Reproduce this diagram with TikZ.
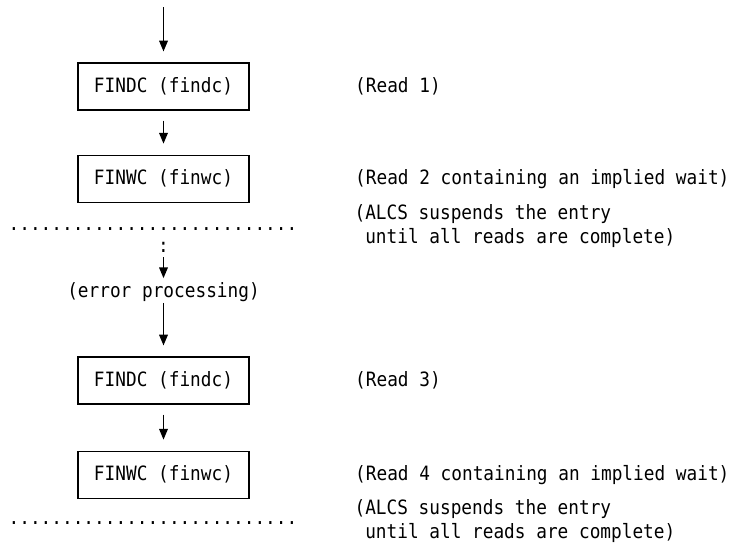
\documentclass[tikz,border=0pt]{standalone}
\usepackage{fontspec}
\setmonofont[FakeStretch=0.9]{DejaVu Sans Mono}
\usepackage{tikz}
\usetikzlibrary{arrows.meta, positioning}

\begin{document}
\begin{tikzpicture}[
  x=0.75pt, y=-0.75pt,
  every node/.style={font=\ttfamily\fontsize{14.8}{18}\selectfont, inner sep=0pt},
  callbox/.style={rectangle, draw, line width=0.9pt, minimum width=128.25pt, minimum height=35.25pt},
  note/.style={align=left},
  arrow/.style={-{Triangle[length=8pt,width=6.5pt]}, line width=0.9pt, shorten <=7.5pt, shorten >=8.25pt}
]
\useasboundingbox (0,0) rectangle (733,553);

% Nodes
\coordinate (start) at (163.5,7);
\node[callbox] (findc1) at (163.5,86.5) {FINDC (findc)};
\node[callbox, below=33pt of findc1] (finwc1) {FINWC (finwc)};
\node (wait1) at (153,229) {...........................};
\node (gap) at (163.5,247) {:};
\node (err) at (163.5,292) {(error processing)};
\node[callbox] (findc2) at (163.5,380.5) {FINDC (findc)};
\node[callbox, below=34.5pt of findc2] (finwc2) {FINWC (finwc)};
\node (wait2) at (153,523) {...........................};

% Comments on the right
\node[note, right=79pt of findc1] (read1) {(Read 1)};
\node[note, right=79pt of finwc1] (read2) {(Read 2 containing an implied wait)};
\node[note, anchor=west] (susp1) at (354.3,226.5) {(ALCS suspends the entry\\\phantom{(}until all reads are complete)};
\node[note, right=79pt of findc2] (read3) {(Read 3)};
\node[note, right=79pt of finwc2] (read4) {(Read 4 containing an implied wait)};
\node[note, anchor=west] (susp2) at (354.3,521) {(ALCS suspends the entry\\\phantom{(}until all reads are complete)};

% Arrows
\draw[arrow, shorten <=0pt] (start) -- (findc1.north);
\draw[arrow] (findc1.south) -- (finwc1.north);
\draw[arrow, shorten <=3.75pt, shorten >=3pt] (gap.south) -- (err.north);
\draw[arrow, shorten <=0.75pt] (err.south) -- (findc2.north);
\draw[arrow] (findc2.south) -- (finwc2.north);

\end{tikzpicture}
\end{document}
